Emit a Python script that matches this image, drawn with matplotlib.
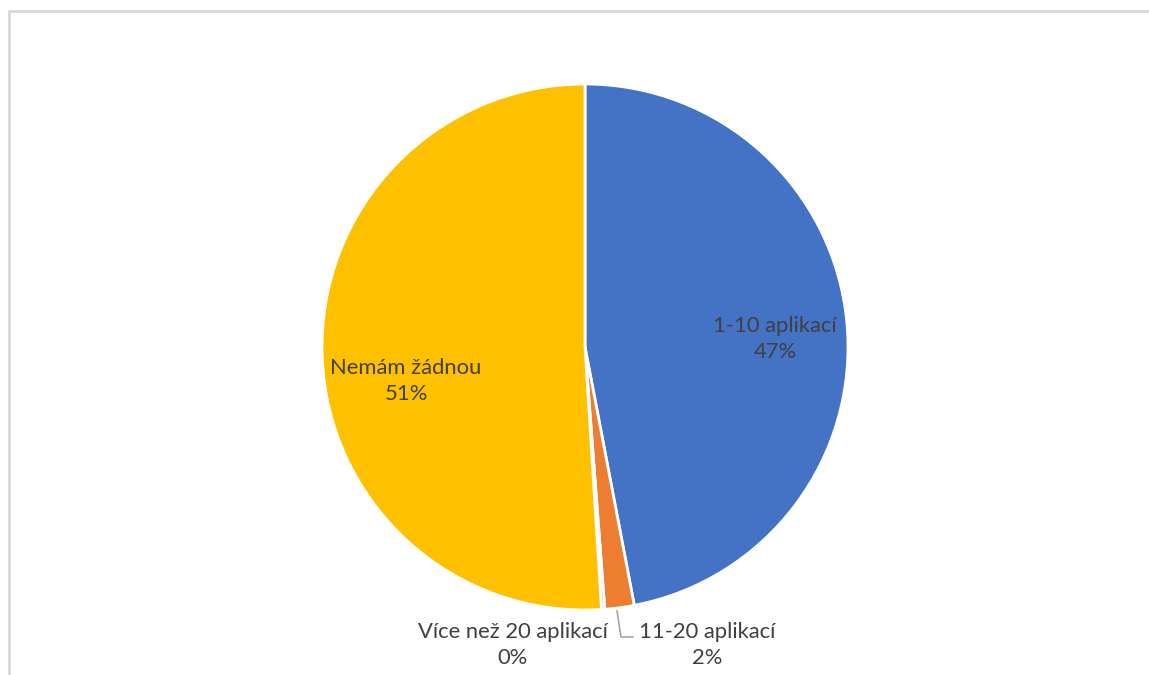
import matplotlib
matplotlib.use("Agg")
import matplotlib.pyplot as plt
from matplotlib.lines import Line2D

# Survey answers: number of apps
categories = ["1-10 aplikací", "11-20 aplikací", "Více než 20 aplikací", "Nemám žádnou"]
counts = [235, 9, 1, 255]
colors = ["#4472C4", "#ED7D31", "#A5A5A5", "#FFC000"]

W, H = 1149, 675
fig = plt.figure(figsize=(W / 100, H / 100), dpi=100)
ax = fig.add_axes([0, 0, 1, 1])

cx, cy, r = 585, H - 347, 263
wedges, _ = ax.pie(counts, colors=colors, startangle=90, counterclock=False,
                   center=(cx, cy), radius=r, frame=True,
                   wedgeprops=dict(edgecolor="white", linewidth=2))
ax.set_xlim(0, W)
ax.set_ylim(0, H)
ax.set_aspect("equal")
ax.axis("off")

total = sum(counts)
pct = [f"{round(100 * c / total):.0f}%" for c in counts]

font = dict(family=["Lato", "DejaVu Sans"], fontsize=15.8, color="#404040",
            ha="center", va="center", linespacing=1.4)
label_pos = [(775, H - 339), (707, H - 645), (513, H - 645), (406, H - 381)]
for name, p, (x, y) in zip(categories, pct, label_pos):
    ax.text(x, y, f"{name}\n{p}", **font)

# leader line for the small orange slice
ax.add_line(Line2D([617, 621, 633], [H - 611, H - 637, H - 637],
                   color="#A6A6A6", linewidth=1.2))

# chart area border (top and left edges)
ax.add_line(Line2D([8.5, 8.5, W], [0, H - 10.5, H - 10.5],
                   color="#D9D9D9", linewidth=2, solid_joinstyle="miter"))

fig.savefig("out.png", dpi=100)
